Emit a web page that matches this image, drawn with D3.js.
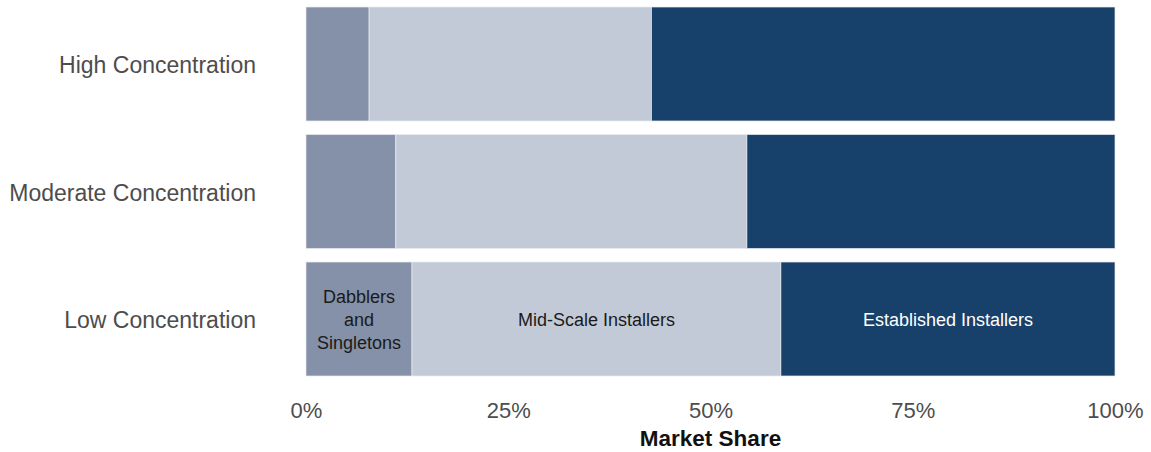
<!DOCTYPE html>
<html lang="en">
<head>
<meta charset="UTF-8">
<title>Market Share by Concentration</title>
<script src="https://d3js.org/d3.v7.min.js"></script>
<style>
  body { margin: 0; background: #fff; font-family: "Liberation Sans", Arial, sans-serif; }
  .tick text { fill: #4d4d4d; }
  .seg-label { font-size: 18px; }
</style>
</head>
<body>
<svg width="1151" height="452"></svg>
<script>
const categories = ["High Concentration", "Moderate Concentration", "Low Concentration"];
const segments = ["Dabblers and Singletons", "Mid-Scale Installers", "Established Installers"];
const dabblers = [7.8, 11.1, 13.1];
const midScale = [34.9, 43.4, 45.6];
const established = [57.3, 45.5, 41.3];
const tickValues = [0, 25, 50, 75, 100];
const colors = ["#8591a8", "#c3cad7", "#17416a"];

const svg = d3.select("svg");
const x = d3.scaleLinear().domain([0, 100]).range([306, 1115]);
const y = d3.scaleBand().domain(categories).range([7, 376]).paddingInner(0.106).paddingOuter(0);

const rows = categories.map((c, i) => ({ cat: c, vals: [dabblers[i], midScale[i], established[i]] }));
const series = d3.stack().keys([0, 1, 2]).value((d, k) => d.vals[k])(rows);

svg.append("g").selectAll("g")
  .data(series)
  .join("g")
  .attr("fill", (d, i) => colors[i])
  .selectAll("rect")
  .data(d => d)
  .join("rect")
  .attr("x", d => x(d[0]))
  .attr("width", d => x(d[1]) - x(d[0]))
  .attr("y", d => y(d.data.cat))
  .attr("height", y.bandwidth())
  .attr("stroke", "#e8ebf0")
  .attr("stroke-width", 0.7);

// segment labels in the bottom bar only
const low = categories[2];
const lowSeries = series.map(s => s[2]);
const labelLines = [["Dabblers", "and", "Singletons"], ["Mid-Scale Installers"], ["Established Installers"]];
const labelColors = ["#1a1a1a", "#1a1a1a", "#ffffff"];
lowSeries.forEach((d, i) => {
  const cx = (x(d[0]) + x(d[1])) / 2;
  const cy = y(low) + y.bandwidth() / 2 + 1;
  const lines = labelLines[i];
  const t = svg.append("text")
    .attr("class", "seg-label")
    .attr("text-anchor", "middle")
    .attr("fill", labelColors[i]);
  lines.forEach((l, j) => {
    t.append("tspan")
      .attr("x", cx)
      .attr("y", cy + (j - (lines.length - 1) / 2) * 23)
      .attr("dy", "0.35em")
      .text(l);
  });
});

// y axis labels
const yAxis = svg.append("g")
  .attr("transform", "translate(266,2)")
  .call(d3.axisLeft(y).tickSize(0).tickPadding(10));
yAxis.select(".domain").remove();
yAxis.selectAll("text").attr("font-size", 23).attr("font-family", "Liberation Sans, Arial, sans-serif");

// x axis
const xAxis = svg.append("g")
  .attr("transform", "translate(0,399)")
  .call(d3.axisBottom(x).tickValues(tickValues).tickFormat(d => d + "%").tickSize(0).tickPadding(3));
xAxis.select(".domain").remove();
xAxis.selectAll("text").attr("font-size", 22).attr("font-family", "Liberation Sans, Arial, sans-serif");

svg.append("text")
  .attr("x", x(50))
  .attr("y", 446)
  .attr("text-anchor", "middle")
  .attr("font-size", 22.5)
  .attr("font-weight", "bold")
  .attr("fill", "#111")
  .text("Market Share");
</script>
</body>
</html>
